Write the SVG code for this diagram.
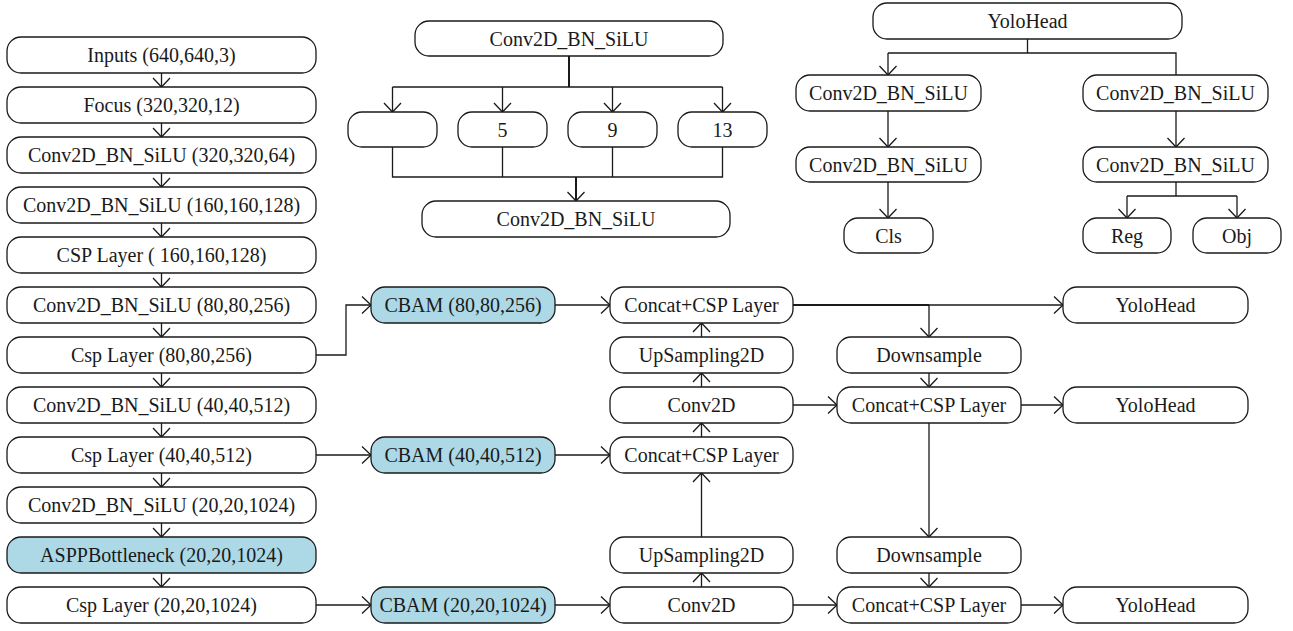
<svg xmlns="http://www.w3.org/2000/svg" width="1293" height="631" viewBox="0 0 1293 631">
<style>
.b{fill:#fff;stroke:#1a1a1a;stroke-width:1.3}
.c{fill:#add8e6;stroke:#1a1a1a;stroke-width:1.3}
text{font-family:"Liberation Serif","Times New Roman",serif;font-size:20px;fill:#1a1a1a;text-anchor:middle}
.l{fill:none;stroke:#1a1a1a;stroke-width:1.3}
.t{fill:none;stroke:#1a1a1a;stroke-width:2}
</style>
<defs>
<marker id="a" viewBox="-11 -10 13 20" refX="0" refY="0" markerWidth="13" markerHeight="20" orient="auto" markerUnits="userSpaceOnUse">
<path d="M-9,-8.5 L0,0 L-9,8.5" fill="none" stroke="#1a1a1a" stroke-width="1.3"/>
</marker>
</defs>
<rect width="1293" height="631" fill="#fff"/>

<g id="connectors">
<!-- left column -->
<path class="l" marker-end="url(#a)" d="M161.5,73V87"/>
<path class="l" marker-end="url(#a)" d="M161.5,123V137"/>
<path class="l" marker-end="url(#a)" d="M161.5,173V187"/>
<path class="l" marker-end="url(#a)" d="M161.5,223V237"/>
<path class="l" marker-end="url(#a)" d="M161.5,273V287"/>
<path class="l" marker-end="url(#a)" d="M161.5,323V337"/>
<path class="l" marker-end="url(#a)" d="M161.5,373V387"/>
<path class="l" marker-end="url(#a)" d="M161.5,423V437"/>
<path class="l" marker-end="url(#a)" d="M161.5,473V487"/>
<path class="l" marker-end="url(#a)" d="M161.5,523V537"/>
<path class="l" marker-end="url(#a)" d="M161.5,573V587"/>
<!-- to CBAM -->
<path class="l" marker-end="url(#a)" d="M316,355H346V305H371"/>
<path class="l" marker-end="url(#a)" d="M316,455H371"/>
<path class="l" marker-end="url(#a)" d="M316,605H371"/>
<path class="l" marker-end="url(#a)" d="M555,305H610"/>
<path class="l" marker-end="url(#a)" d="M555,455H610"/>
<path class="l" marker-end="url(#a)" d="M555,605H610"/>
<!-- up path -->
<path class="l" marker-end="url(#a)" d="M701.5,587V573"/>
<path class="l" marker-end="url(#a)" d="M701.5,537V473"/>
<path class="l" marker-end="url(#a)" d="M701.5,437V423"/>
<path class="l" marker-end="url(#a)" d="M701.5,387V373"/>
<path class="l" marker-end="url(#a)" d="M701.5,337V323"/>
<!-- down path -->
<path class="t" d="M793,305H929"/>
<path class="l" marker-end="url(#a)" d="M929,305H1063"/>
<path class="l" marker-end="url(#a)" d="M929,305V337"/>
<path class="l" marker-end="url(#a)" d="M929,373V387"/>
<path class="l" marker-end="url(#a)" d="M793,405H837"/>
<path class="l" marker-end="url(#a)" d="M1021,405H1063"/>
<path class="l" marker-end="url(#a)" d="M929,423V537"/>
<path class="l" marker-end="url(#a)" d="M929,573V587"/>
<path class="l" marker-end="url(#a)" d="M793,605H837"/>
<path class="l" marker-end="url(#a)" d="M1021,605H1063"/>
<!-- SPP -->
<path class="t" d="M569,56V87"/>
<path class="l" d="M392.5,87H722.5"/>
<path class="l" marker-end="url(#a)" d="M392.5,87V112"/>
<path class="l" marker-end="url(#a)" d="M502.5,87V112"/>
<path class="l" marker-end="url(#a)" d="M612.5,87V112"/>
<path class="l" marker-end="url(#a)" d="M722.5,87V112"/>
<path class="l" d="M392.5,147V177H722.5V147M502.5,147V177M612.5,147V177"/>
<path class="t" marker-end="url(#a)" d="M576,177V201"/>
<!-- YoloHead detail -->
<path class="l" d="M1027.5,39V53M888,53H1176V75"/>
<path class="l" marker-end="url(#a)" d="M888,53V75"/>
<path class="l" marker-end="url(#a)" d="M888,111V147"/>
<path class="l" marker-end="url(#a)" d="M1176,111V147"/>
<path class="l" marker-end="url(#a)" d="M888,182V218"/>
<path class="l" d="M1176,182V196M1127,196H1237"/>
<path class="l" marker-end="url(#a)" d="M1127,196V218"/>
<path class="l" marker-end="url(#a)" d="M1237,196V218"/>
</g>

<g id="n_inputs"><rect class="b" x="7" y="37" width="309" height="36" rx="14"/><text x="161.5" y="62">Inputs (640,640,3)</text></g>
<g id="n_focus"><rect class="b" x="7" y="87" width="309" height="36" rx="14"/><text x="161.5" y="112">Focus (320,320,12)</text></g>
<g id="n_conv1"><rect class="b" x="7" y="137" width="309" height="36" rx="14"/><text x="161.5" y="162">Conv2D_BN_SiLU (320,320,64)</text></g>
<g id="n_conv2"><rect class="b" x="7" y="187" width="309" height="36" rx="14"/><text x="161.5" y="212">Conv2D_BN_SiLU (160,160,128)</text></g>
<g id="n_csp1"><rect class="b" x="7" y="237" width="309" height="36" rx="14"/><text x="161.5" y="262">CSP Layer ( 160,160,128)</text></g>
<g id="n_conv3"><rect class="b" x="7" y="287" width="309" height="36" rx="14"/><text x="161.5" y="312">Conv2D_BN_SiLU (80,80,256)</text></g>
<g id="n_csp2"><rect class="b" x="7" y="337" width="309" height="36" rx="14"/><text x="161.5" y="362">Csp Layer (80,80,256)</text></g>
<g id="n_conv4"><rect class="b" x="7" y="387" width="309" height="36" rx="14"/><text x="161.5" y="412">Conv2D_BN_SiLU (40,40,512)</text></g>
<g id="n_csp3"><rect class="b" x="7" y="437" width="309" height="36" rx="14"/><text x="161.5" y="462">Csp Layer (40,40,512)</text></g>
<g id="n_conv5"><rect class="b" x="7" y="487" width="309" height="36" rx="14"/><text x="161.5" y="512">Conv2D_BN_SiLU (20,20,1024)</text></g>
<g id="n_aspp"><rect class="c" x="7" y="537" width="309" height="36" rx="14"/><text x="161.5" y="562">ASPPBottleneck (20,20,1024)</text></g>
<g id="n_csp4"><rect class="b" x="7" y="587" width="309" height="36" rx="14"/><text x="161.5" y="612">Csp Layer (20,20,1024)</text></g>

<g id="n_cbam1"><rect class="c" x="371" y="287" width="184" height="36" rx="14"/><text x="463" y="312">CBAM (80,80,256)</text></g>
<g id="n_cbam2"><rect class="c" x="371" y="437" width="184" height="36" rx="14"/><text x="463" y="462">CBAM (40,40,512)</text></g>
<g id="n_cbam3"><rect class="c" x="371" y="587" width="184" height="36" rx="14"/><text x="463" y="612">CBAM (20,20,1024)</text></g>

<g id="n_concat1"><rect class="b" x="610" y="287" width="183" height="36" rx="14"/><text x="701.5" y="312">Concat+CSP Layer</text></g>
<g id="n_up1"><rect class="b" x="610" y="337" width="183" height="36" rx="14"/><text x="701.5" y="362">UpSampling2D</text></g>
<g id="n_c2d1"><rect class="b" x="610" y="387" width="183" height="36" rx="14"/><text x="701.5" y="412">Conv2D</text></g>
<g id="n_concat2"><rect class="b" x="610" y="437" width="183" height="36" rx="14"/><text x="701.5" y="462">Concat+CSP Layer</text></g>
<g id="n_up2"><rect class="b" x="610" y="537" width="183" height="36" rx="14"/><text x="701.5" y="562">UpSampling2D</text></g>
<g id="n_c2d2"><rect class="b" x="610" y="587" width="183" height="36" rx="14"/><text x="701.5" y="612">Conv2D</text></g>

<g id="n_down1"><rect class="b" x="837" y="337" width="184" height="36" rx="14"/><text x="929" y="362">Downsample</text></g>
<g id="n_concat3"><rect class="b" x="837" y="387" width="184" height="36" rx="14"/><text x="929" y="412">Concat+CSP Layer</text></g>
<g id="n_down2"><rect class="b" x="837" y="537" width="184" height="36" rx="14"/><text x="929" y="562">Downsample</text></g>
<g id="n_concat4"><rect class="b" x="837" y="587" width="184" height="36" rx="14"/><text x="929" y="612">Concat+CSP Layer</text></g>

<g id="n_yolo1"><rect class="b" x="1063" y="287" width="185" height="36" rx="14"/><text x="1155.5" y="312">YoloHead</text></g>
<g id="n_yolo2"><rect class="b" x="1063" y="387" width="185" height="36" rx="14"/><text x="1155.5" y="412">YoloHead</text></g>
<g id="n_yolo3"><rect class="b" x="1063" y="587" width="185" height="36" rx="14"/><text x="1155.5" y="612">YoloHead</text></g>

<g id="n_spp_in"><rect class="b" x="415" y="21" width="308" height="35" rx="14"/><text x="569" y="45.5">Conv2D_BN_SiLU</text></g>
<g id="n_spp_p0"><rect class="b" x="348" y="112" width="89" height="35" rx="14"/></g>
<g id="n_spp_p5"><rect class="b" x="458" y="112" width="89" height="35" rx="14"/><text x="502.5" y="136.5">5</text></g>
<g id="n_spp_p9"><rect class="b" x="568" y="112" width="89" height="35" rx="14"/><text x="612.5" y="136.5">9</text></g>
<g id="n_spp_p13"><rect class="b" x="678" y="112" width="89" height="35" rx="14"/><text x="722.5" y="136.5">13</text></g>
<g id="n_spp_out"><rect class="b" x="422" y="201" width="308" height="36" rx="14"/><text x="576" y="226">Conv2D_BN_SiLU</text></g>

<g id="n_head"><rect class="b" x="873" y="3" width="309" height="36" rx="14"/><text x="1027.5" y="28">YoloHead</text></g>
<g id="n_h_l1"><rect class="b" x="796" y="75" width="185" height="36" rx="14"/><text x="888.5" y="100">Conv2D_BN_SiLU</text></g>
<g id="n_h_l2"><rect class="b" x="796" y="147" width="185" height="35" rx="14"/><text x="888.5" y="171.5">Conv2D_BN_SiLU</text></g>
<g id="n_h_r1"><rect class="b" x="1083" y="75" width="185" height="36" rx="14"/><text x="1175.5" y="100">Conv2D_BN_SiLU</text></g>
<g id="n_h_r2"><rect class="b" x="1083" y="147" width="185" height="35" rx="14"/><text x="1175.5" y="171.5">Conv2D_BN_SiLU</text></g>
<g id="n_cls"><rect class="b" x="844" y="218" width="89" height="35" rx="14"/><text x="888.5" y="242.5">Cls</text></g>
<g id="n_reg"><rect class="b" x="1083" y="218" width="88" height="35" rx="14"/><text x="1127" y="242.5">Reg</text></g>
<g id="n_obj"><rect class="b" x="1193" y="218" width="88" height="35" rx="14"/><text x="1237" y="242.5">Obj</text></g>
</svg>
